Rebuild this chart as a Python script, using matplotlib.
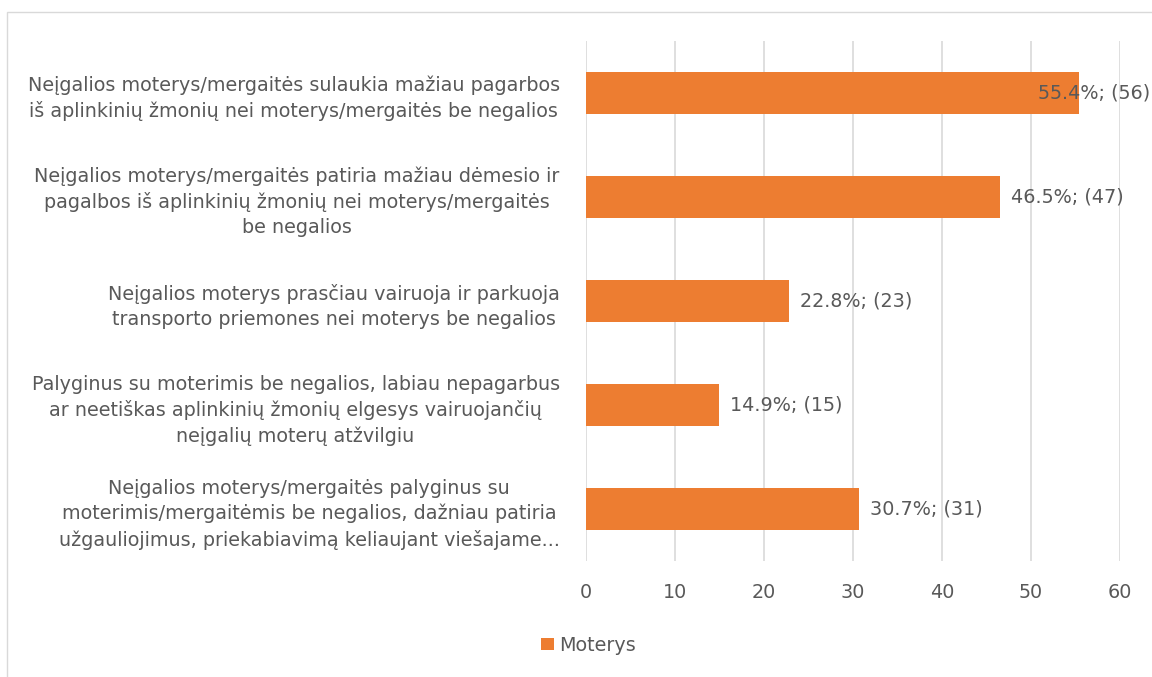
import matplotlib.pyplot as plt
from matplotlib.patches import Rectangle

# Duomenys
kategorijos = [
    "Neįgalios moterys/mergaitės sulaukia mažiau pagarbos\niš aplinkinių žmonių nei moterys/mergaitės be negalios",
    "Neįgalios moterys/mergaitės patiria mažiau dėmesio ir\npagalbos iš aplinkinių žmonių nei moterys/mergaitės\nbe negalios",
    "Neįgalios moterys prasčiau vairuoja ir parkuoja\ntransporto priemones nei moterys be negalios",
    "Palyginus su moterimis be negalios, labiau nepagarbus\nar neetiškas aplinkinių žmonių elgesys vairuojančių\nneįgalių moterų atžvilgiu",
    "Neįgalios moterys/mergaitės palyginus su\nmoterimis/mergaitėmis be negalios, dažniau patiria\nužgauliojimus, priekabiavimą keliaujant viešajame...",
]
procentai = [55.4, 46.5, 22.8, 14.9, 30.7]
skaiciai = [56, 47, 23, 15, 31]
serija = "Moterys"

ORANZINE = "#ED7D31"
TEKSTAS = "#595959"
TINKLAS = "#D9D9D9"
FS = 13.8

plt.rcParams["font.family"] = ["DejaVu Sans"]

fig = plt.figure(figsize=(11.52, 6.77), dpi=100)
ax = fig.add_axes([0.5087, 0.1713, 0.4635, 0.7681])

y = list(range(len(kategorijos)))
bars = ax.barh(y, procentai, height=0.4, color=ORANZINE, label=serija, zorder=2)

zymes = []
for b, p, n in zip(bars, procentai, skaiciai):
    t = ax.annotate(f"{p}%; ({n})", xy=(b.get_width(), b.get_y() + b.get_height() / 2),
                    xytext=(8, 0), textcoords="offset points", va="center", ha="left",
                    fontsize=FS, color=TEKSTAS, zorder=3, annotation_clip=False)
    zymes.append(t)

ax.set_xlim(0, 60)
ax.set_ylim(len(kategorijos) - 0.5, -0.5)
ax.set_xticks(range(0, 61, 10))
ax.set_yticks(y)
ax.set_yticklabels(kategorijos, multialignment="center", fontsize=FS, color=TEKSTAS,
                   linespacing=1.4)
ax.tick_params(axis="y", length=0, pad=19)
ax.tick_params(axis="x", length=0, pad=16, labelsize=FS, labelcolor=TEKSTAS)
ax.grid(axis="x", color=TINKLAS, lw=1.2, zorder=0)
for s in ax.spines.values():
    s.set_visible(False)

leg = fig.legend(loc="center", bbox_to_anchor=(0.511, 0.047), frameon=False,
                 fontsize=FS, handlelength=0.65, handleheight=0.65, handletextpad=0.3)
for t in leg.get_texts():
    t.set_color(TEKSTAS)

# ramelis
fig.patches.append(Rectangle((7 / 1152, -0.1), 1.2, 1 - 12 / 677 + 0.1,
                             transform=fig.transFigure, fill=False, ec=TINKLAS, lw=1))

# etiketės, kurios netelpa, pastumiamos į kairę (kaip Excel)
fig.canvas.draw()
r = fig.canvas.get_renderer()
for t in zymes:
    bb = t.get_window_extent(r)
    if bb.x1 > fig.bbox.width - 2:
        t.xyann = (t.xyann[0] - (bb.x1 - fig.bbox.width + 2) * 72 / fig.dpi, 0)

fig.savefig("out.png", dpi=100)
